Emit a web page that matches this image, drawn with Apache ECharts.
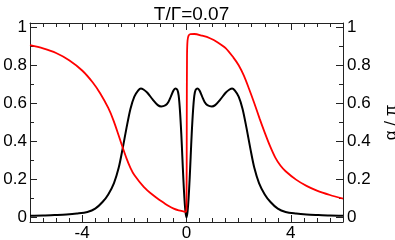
<!DOCTYPE html>
<html>
<head>
<meta charset="utf-8">
<script src="https://cdn.jsdelivr.net/npm/echarts@6/dist/echarts.min.js"></script>
<style>html,body{margin:0;padding:0;background:#fff}#c{width:395px;height:240px}</style>
</head>
<body>
<div id="c"></div>
<script>
// ---- data ----
var titleText = 'T/\u0393=0.07';
var yName = '\u03b1 / \u03c0';

var redX = [-6, -5.5, -5, -4.5, -4, -3.6, -3.3, -3.0, -2.8, -2.6, -2.46, -2.3, -2.15, -2.0, -1.64, -1.3, -1.0, -0.7, -0.49, -0.3, -0.1, -0.03, 0.0, 0.01, 0.02, 0.04, 0.08, 0.15, 0.3, 0.6, 0.9, 1.2, 1.5, 1.8, 2.0, 2.2, 2.4, 2.6, 2.8, 3.0, 3.2, 3.4, 3.6, 3.8, 4.2, 4.6, 5.0, 5.5, 6.0];
var redY = [0.905, 0.888, 0.864, 0.826, 0.772, 0.71, 0.65, 0.575, 0.51, 0.43, 0.372, 0.31, 0.26, 0.222, 0.16, 0.118, 0.088, 0.06, 0.045, 0.036, 0.03, 0.028, 0.05, 0.5, 0.85, 0.93, 0.955, 0.963, 0.964, 0.955, 0.942, 0.92, 0.89, 0.84, 0.80, 0.745, 0.675, 0.60, 0.52, 0.445, 0.375, 0.315, 0.272, 0.242, 0.198, 0.165, 0.14, 0.117, 0.098];

var blackX = [-6.0, -5.5, -5.0, -4.6, -4.2, -3.8, -3.5, -3.22, -3.0, -2.78, -2.6, -2.45, -2.3, -2.15, -2.0, -1.85, -1.75, -1.65, -1.5, -1.3, -1.1, -0.97, -0.8, -0.7, -0.6, -0.5, -0.43, -0.35, -0.3, -0.25, -0.2, -0.16, -0.12, -0.08, -0.04, 0,
              0.04, 0.08, 0.12, 0.16, 0.2, 0.25, 0.3, 0.35, 0.43, 0.5, 0.6, 0.7, 0.8, 0.97, 1.1, 1.3, 1.5, 1.65, 1.75, 1.85, 2.0, 2.15, 2.3, 2.45, 2.6, 2.78, 3.0, 3.22, 3.5, 3.8, 4.2, 4.6, 5.0, 5.5, 6.0];
var blackY = [0.008, 0.009, 0.012, 0.015, 0.02, 0.028, 0.045, 0.08, 0.12, 0.18, 0.26, 0.36, 0.47, 0.57, 0.635, 0.668, 0.678, 0.672, 0.655, 0.62, 0.59, 0.583, 0.59, 0.605, 0.635, 0.667, 0.678, 0.67, 0.64, 0.56, 0.44, 0.32, 0.2, 0.1, 0.03, 0.0,
              0.03, 0.1, 0.2, 0.32, 0.44, 0.56, 0.64, 0.67, 0.678, 0.667, 0.635, 0.605, 0.59, 0.583, 0.59, 0.62, 0.655, 0.672, 0.678, 0.668, 0.635, 0.57, 0.47, 0.36, 0.26, 0.18, 0.12, 0.08, 0.045, 0.028, 0.02, 0.015, 0.012, 0.009, 0.008];

var xLabels = [-4, 0, 4];
var xMinorTicks = [-6, -5.5, -5, -4.5, -4, -3.5, -3, -2.5, -2, -1.5, -1, -0.5, 0, 0.5, 1, 1.5, 2, 2.5, 3, 3.5, 4, 4.5, 5, 5.5, 6];
var yLabels = [0, 0.2, 0.4, 0.6, 0.8, 1];
var yMinorTicks = [0, 0.1, 0.2, 0.3, 0.4, 0.5, 0.6, 0.7, 0.8, 0.9, 1];

// ---- chart ----
function pairs(xs, ys) { return xs.map(function (x, i) { return [x, ys[i]]; }); }
var X_MIN = -6, X_MAX = 6, Y_MIN = -0.025, Y_MAX = 1.022;
var lineCol = '#222';
var font = 'Liberation Sans, Arial, Helvetica, sans-serif';
var gridBox = { left: 30, right: 52, top: 23, bottom: 18 };

function xAx(grid, pos, ticks, len, labels, showLine) {
  return {
    type: 'value', gridIndex: grid, position: pos, min: X_MIN, max: X_MAX,
    axisLine: { show: showLine, onZero: false, lineStyle: { color: lineCol, width: 1 } },
    axisTick: { show: true, inside: true, length: len, customValues: ticks, lineStyle: { color: lineCol, width: 1 } },
    axisLabel: labels ? { show: true, customValues: labels, fontSize: 17, fontFamily: font, color: '#000', margin: 3,
      formatter: function (v) { return String(v); } } : { show: false },
    splitLine: { show: false }
  };
}
function yAx(grid, pos, ticks, len, labels, showLine, name) {
  var a = {
    type: 'value', gridIndex: grid, position: pos, min: Y_MIN, max: Y_MAX,
    axisLine: { show: showLine, onZero: false, lineStyle: { color: lineCol, width: 1 } },
    axisTick: { show: true, inside: true, length: len, customValues: ticks, lineStyle: { color: lineCol, width: 1 } },
    axisLabel: labels ? { show: true, customValues: labels, fontSize: 17, fontFamily: font, color: '#000', margin: pos === 'left' ? 3 : 4,
      formatter: function (v) { return String(v); } } : { show: false },
    splitLine: { show: false }
  };
  if (name) {
    a.name = name; a.nameLocation = 'middle'; a.nameRotate = 90; a.nameGap = 39.5;
    a.nameTextStyle = { fontSize: 17, fontFamily: font, color: '#000' };
  }
  return a;
}

var chart = echarts.init(document.getElementById('c'), null, { renderer: 'canvas' });
chart.setOption({
  animation: false,
  backgroundColor: '#fff',
  title: { text: titleText, left: 186.5, top: 0, textAlign: 'center',
    textStyle: { fontSize: 19, fontWeight: 'normal', fontFamily: font, color: '#000' } },
  grid: [
    Object.assign({ containLabel: false, outerBoundsMode: 'none' }, gridBox),
    Object.assign({ containLabel: false, outerBoundsMode: 'none' }, gridBox)
  ],
  xAxis: [
    xAx(0, 'bottom', xMinorTicks, 4, xLabels, true),
    xAx(0, 'top', xMinorTicks, 4, null, true),
    xAx(1, 'bottom', xLabels, 7, null, false),
    xAx(1, 'top', xLabels, 7, null, false)
  ],
  yAxis: [
    yAx(0, 'left', yMinorTicks, 4, yLabels, true),
    yAx(0, 'right', yMinorTicks, 4, yLabels, true, yName),
    yAx(1, 'left', yLabels, 7, null, false),
    yAx(1, 'right', yLabels, 7, null, false)
  ],
  series: [
    { type: 'line', xAxisIndex: 0, yAxisIndex: 0, data: pairs(redX, redY), showSymbol: false,
      smooth: 0.3, lineStyle: { color: '#ff0000', width: 1.8 }, z: 3 },
    { type: 'line', xAxisIndex: 0, yAxisIndex: 0, data: pairs(blackX, blackY), showSymbol: false,
      smooth: 0.3, lineStyle: { color: '#000000', width: 2 }, z: 2 }
  ]
});
</script>
</body>
</html>
